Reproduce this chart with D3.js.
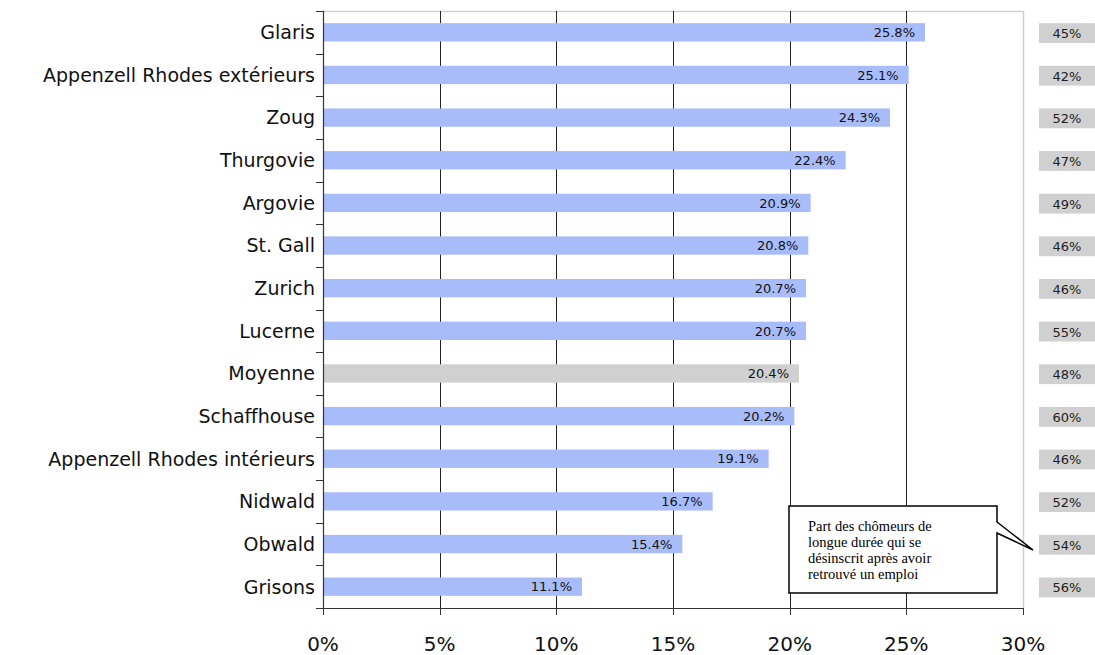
<!DOCTYPE html>
<html><head><meta charset="utf-8">
<script src="https://cdn.jsdelivr.net/npm/d3@7"></script>
<style>html,body{margin:0;padding:0;background:#fff;overflow:hidden}</style>
</head><body>
<svg id="c" width="1095" height="655"></svg>
<script>
const categories = ["Glaris","Appenzell Rhodes extérieurs","Zoug","Thurgovie","Argovie","St. Gall","Zurich","Lucerne","Moyenne","Schaffhouse","Appenzell Rhodes intérieurs","Nidwald","Obwald","Grisons"];
const shareValues = [25.8,25.1,24.3,22.4,20.9,20.8,20.7,20.7,20.4,20.2,19.1,16.7,15.4,11.1];
const exitValues = [45,42,52,47,49,46,46,55,48,60,46,52,54,56];
const xTicks = [0,5,10,15,20,25,30];
const calloutLines = ["Part des chômeurs de","longue durée qui se","désinscrit après avoir","retrouvé un emploi"];
const averageLabel = "Moyenne";

const svg = d3.select("#c");
const L = 323, R = 1023, T = 11, B = 608;
const x = d3.scaleLinear().domain([0,30]).range([L,R]);
const y = d3.scaleBand().domain(categories).range([T,B]).paddingInner(0.57).paddingOuter(0.285);
const step = y.step();

// frame (light)
svg.append("line").attr("x1",L).attr("x2",R).attr("y1",T+0.5).attr("y2",T+0.5).attr("stroke","#d0d0d0").attr("stroke-width",1.5);
svg.append("line").attr("x1",R+0.5).attr("x2",R+0.5).attr("y1",T).attr("y2",B).attr("stroke","#d0d0d0").attr("stroke-width",1.5);

// gridlines
svg.append("g").selectAll("line").data(xTicks.filter(d=>d>0&&d<30)).join("line")
  .attr("x1",d=>Math.round(x(d))+0.5).attr("x2",d=>Math.round(x(d))+0.5)
  .attr("y1",T).attr("y2",B).attr("stroke","#222").attr("stroke-width",1);

// bars
const rows = categories.map((c,i)=>({c, v:shareValues[i], e:exitValues[i]}));
svg.append("g").selectAll("rect").data(rows).join("rect")
  .attr("x",x(0)).attr("y",d=>y(d.c)).attr("width",d=>x(d.v)-x(0)).attr("height",y.bandwidth())
  .attr("fill",d=>d.c===averageLabel?"#d0d0d0":"#a9bcfa");

// value labels
svg.append("g").selectAll("text").data(rows).join("text")
  .attr("x",d=>x(d.v)-10).attr("y",d=>y(d.c)+y.bandwidth()/2).attr("dy","0.36em")
  .attr("text-anchor","end").attr("font-family","DejaVu Sans").attr("font-size",13).attr("fill","#111")
  .text(d=>d.v.toFixed(1)+"%");

// right boxes
const rb = svg.append("g");
rb.selectAll("rect").data(rows).join("rect")
  .attr("x",1039).attr("y",d=>y(d.c)).attr("width",60).attr("height",y.bandwidth()+1.5).attr("fill","#d0d0d0");
rb.selectAll("text").data(rows).join("text")
  .attr("x",1067).attr("y",d=>y(d.c)+y.bandwidth()/2+1).attr("dy","0.36em")
  .attr("text-anchor","middle").attr("font-family","DejaVu Sans").attr("font-size",13).attr("fill","#222")
  .text(d=>d.e+"%");

// y axis
svg.append("line").attr("x1",L+0.5).attr("x2",L+0.5).attr("y1",T).attr("y2",B).attr("stroke","#333").attr("stroke-width",1.2);
svg.append("g").selectAll("line").data(d3.range(categories.length+1)).join("line")
  .attr("x1",L-7).attr("x2",L).attr("y1",i=>Math.round(T+i*step)+0.5).attr("y2",i=>Math.round(T+i*step)+0.5)
  .attr("stroke","#333").attr("stroke-width",1);
svg.append("g").selectAll("text").data(categories).join("text")
  .attr("x",315).attr("y",d=>y(d)+y.bandwidth()/2).attr("dy","0.36em")
  .attr("text-anchor","end").attr("font-family","DejaVu Sans").attr("font-size",19).attr("fill","#111")
  .text(d=>d);

// x axis
svg.append("line").attr("x1",L).attr("x2",R).attr("y1",B+0.5).attr("y2",B+0.5).attr("stroke","#333").attr("stroke-width",1.2);
svg.append("g").selectAll("line").data(xTicks).join("line")
  .attr("x1",d=>Math.round(x(d))+0.5).attr("x2",d=>Math.round(x(d))+0.5).attr("y1",B).attr("y2",B+7)
  .attr("stroke","#333");
svg.append("g").selectAll("text").data(xTicks).join("text")
  .attr("x",d=>x(d)).attr("y",651).attr("text-anchor","middle")
  .attr("font-family","DejaVu Sans").attr("font-size",20).attr("fill","#111")
  .text(d=>d+"%");

// callout
const bx0=789, bx1=997, by0=506, by1=593;
svg.append("path")
  .attr("d",`M${bx0},${by0} L${bx1},${by0} L${bx1},${by0+16} L1033,550 L${bx1},${by0+27} L${bx1},${by1} L${bx0},${by1} Z`)
  .attr("fill","#fff").attr("stroke","#000").attr("stroke-width",1.5);
svg.append("g").selectAll("text").data(calloutLines).join("text")
  .attr("x",808).attr("y",(d,i)=>531+i*16)
  .attr("font-family","Liberation Serif").attr("font-size",14.5).attr("fill","#000")
  .text(d=>d);
</script>
</body></html>
